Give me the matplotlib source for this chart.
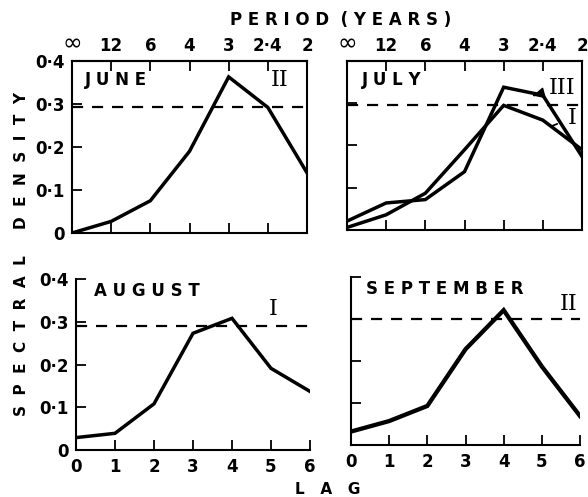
import matplotlib
matplotlib.use("Agg")
import matplotlib.pyplot as plt

lags = [0, 1, 2, 3, 4, 5, 6]
period_labels = ["∞", "12", "6", "4", "3", "2·4", "2"]
y_ticks = [0, 0.1, 0.2, 0.3, 0.4]
y_ticklabels = ["0", "0·1", "0·2", "0·3", "0·4"]

june = [0.0, 0.027, 0.075, 0.19, 0.363, 0.292, 0.14]
july_I = [0.006, 0.036, 0.087, 0.19, 0.295, 0.26, 0.19]
july_III = [0.021, 0.064, 0.072, 0.138, 0.338, 0.319, 0.174]
august = [0.029, 0.039, 0.108, 0.273, 0.308, 0.191, 0.137]
september = [0.032, 0.057, 0.093, 0.228, 0.321, 0.187, 0.069]

sig_june = 0.294
sig_july = 0.295
sig_august = 0.29
sig_september = 0.30

W, H = 588, 497
fig = plt.figure(figsize=(W / 100, H / 100), dpi=100)
fig.patch.set_facecolor("white")

def rect(x0, x1, ytop, ybot):
    return [x0 / W, 1 - ybot / H, (x1 - x0) / W, (ybot - ytop) / H]

LW = 2.5
TICKLEN = 7

def base(ax, top_panel, ylabels, xlabels):
    ax.set_xlim(0, 6)
    ax.set_ylim(0, 0.4)
    ax.set_yticks(y_ticks)
    if ylabels:
        ax.set_yticklabels(y_ticklabels, fontsize=12, fontweight="bold")
    else:
        ax.set_yticklabels([])
    ax.set_xticks(lags)
    if xlabels:
        ax.set_xticklabels([str(l) for l in lags], fontsize=12, fontweight="bold")
    else:
        ax.set_xticklabels([])
    ax.tick_params(direction="in", length=TICKLEN, width=1.3, pad=5, colors="black")
    ax.tick_params(axis="x", pad=6)
    for s in ax.spines.values():
        s.set_linewidth(1.5)
    if top_panel:
        ax2 = ax.secondary_xaxis("top")
        ax2.set_xticks(lags)
        ax2.set_xticklabels(period_labels, fontsize=12, fontweight="bold")
        ax2.get_xticklabels()[0].set_fontsize(17)
        ax2.get_xticklabels()[0].set_fontweight("normal")
        ax2.tick_params(direction="in", length=TICKLEN, width=1.3, pad=4)
        ax2.spines["top"].set_linewidth(1.5)
    else:
        ax.spines["top"].set_visible(False)
        ax.spines["right"].set_visible(False)

def dashed(ax, y):
    ax.axhline(y, color="black", lw=1.6, ls=(0, (5, 4)), clip_on=True)

# June
ax1 = fig.add_axes(rect(72, 307, 61, 233))
base(ax1, True, True, False)
ax1.plot(lags, june, color="black", lw=LW, solid_joinstyle="miter")
dashed(ax1, sig_june)
ax1.text(0.33, 0.355, "J U N E", fontsize=12, fontweight="bold", va="center")
ax1.text(5.3, 0.355, "II", fontsize=16, family="DejaVu Serif", va="center", ha="center")

# July
ax2 = fig.add_axes(rect(347, 582, 61, 230))
base(ax2, True, False, False)
ax2.plot(lags, july_III, color="black", lw=LW, solid_joinstyle="miter")
ax2.plot(lags, july_I, color="black", lw=LW, solid_joinstyle="miter")
dashed(ax2, sig_july)
ax2.text(0.38, 0.355, "J U L Y", fontsize=12, fontweight="bold", va="center")
ax2.annotate("III", xy=(4.75, 0.318), xytext=(5.5, 0.336), fontsize=16,
             family="DejaVu Serif", va="center", ha="center",
             arrowprops=dict(arrowstyle="-|>", color="black", lw=1.3, shrinkA=9, shrinkB=0))
ax2.annotate("I", xy=(5.2, 0.245), xytext=(5.75, 0.265), fontsize=16,
             family="DejaVu Serif", va="center", ha="center",
             arrowprops=dict(arrowstyle="-", color="black", lw=1.3, shrinkA=6, shrinkB=0))

# August
ax3 = fig.add_axes(rect(76, 310, 279, 450))
base(ax3, False, True, True)
ax3.plot(lags, august, color="black", lw=LW, solid_joinstyle="miter")
dashed(ax3, sig_august)
ax3.text(0.45, 0.372, "A U G U S T", fontsize=12, fontweight="bold", va="center")
ax3.text(5.05, 0.33, "I", fontsize=16, family="DejaVu Serif", va="center", ha="center")

# September
ax4 = fig.add_axes(rect(351, 580, 277, 445))
base(ax4, False, False, True)
ax4.plot(lags, september, color="black", lw=LW + 0.6, solid_joinstyle="miter")
dashed(ax4, sig_september)
ax4.text(0.4, 0.372, "S E P T E M B E R", fontsize=12, fontweight="bold", va="center")
ax4.text(5.7, 0.335, "II", fontsize=16, family="DejaVu Serif", va="center", ha="center")

fig.text(341 / W, 1 - 20 / H, "P E R I O D  ( Y E A R S )", fontsize=12,
         fontweight="bold", ha="center", va="center")
fig.text(328 / W, 1 - 489 / H, "L   A   G", fontsize=11, fontweight="bold",
         ha="center", va="center")
fig.text(22 / W, 1 - 254 / H, "S  P  E  C  T  R  A  L     D  E  N  S  I  T  Y", fontsize=11,
         fontweight="bold", ha="center", va="center", rotation=90)

fig.savefig("out.png", dpi=100, facecolor="white")
